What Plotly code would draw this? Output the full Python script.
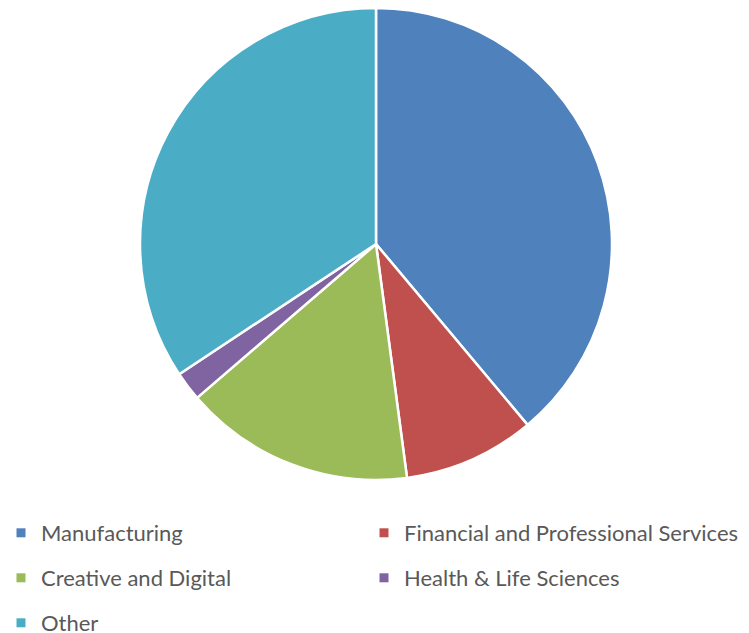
import plotly.graph_objects as go

labels = ["Manufacturing", "Financial and Professional Services",
          "Creative and Digital", "Health & Life Sciences", "Other"]
values = [38.9, 9.0, 15.8, 2.0, 34.3]
colors = ["#4F81BD", "#C0504D", "#9BBB59", "#8064A2", "#4BACC6"]

W, H = 749, 633
PAGE = 8  # the page body adds an 8px margin around the figure

# legend grid like the original: two columns, three rows (page pixels)
leg_x = [-7, 356, -7, 356, -7]
leg_y = [533, 533, 578, 578, 623]

# pie centre and radius on the page
cx, cy, r = 376, 244, 236

fig = go.Figure()

fig.add_trace(go.Pie(
    labels=labels,
    values=values,
    sort=False,
    direction="clockwise",
    rotation=0,
    textinfo="none",
    hoverinfo="label+percent",
    showlegend=False,
    marker=dict(colors=colors, line=dict(color="white", width=2.5)),
    domain=dict(x=[(cx - PAGE - r) / W, (cx - PAGE + r) / W],
                y=[max(0, 1 - (cy - PAGE + r) / H), min(1, 1 - (cy - PAGE - r) / H)]),
))

leg_style = dict(
    xanchor="left",
    yanchor="middle",
    font=dict(size=22, family="Lato", color="#595959"),
    bgcolor="rgba(0,0,0,0)",
)

layout_legends = {}
for i, (lab, col) in enumerate(zip(labels, colors)):
    key = "legend" if i == 0 else f"legend{i + 1}"
    # legend entries as empty square-marker traces so each can be placed freely
    fig.add_trace(go.Scatter(
        x=[None], y=[None], mode="markers", name=lab, legend=key,
        marker=dict(symbol="square", size=9, color=col),
        hoverinfo="skip",
    ))
    layout_legends[key] = dict(leg_style, x=leg_x[i] / W,
                               y=1 - (leg_y[i] - PAGE) / H)

fig.update_layout(
    width=W,
    height=H,
    margin=dict(l=0, r=0, t=0, b=0, autoexpand=False),
    paper_bgcolor="white",
    plot_bgcolor="white",
    font=dict(family="Lato", color="#595959"),
    xaxis=dict(visible=False),
    yaxis=dict(visible=False),
    **layout_legends,
)

fig.write_html("out.html")
